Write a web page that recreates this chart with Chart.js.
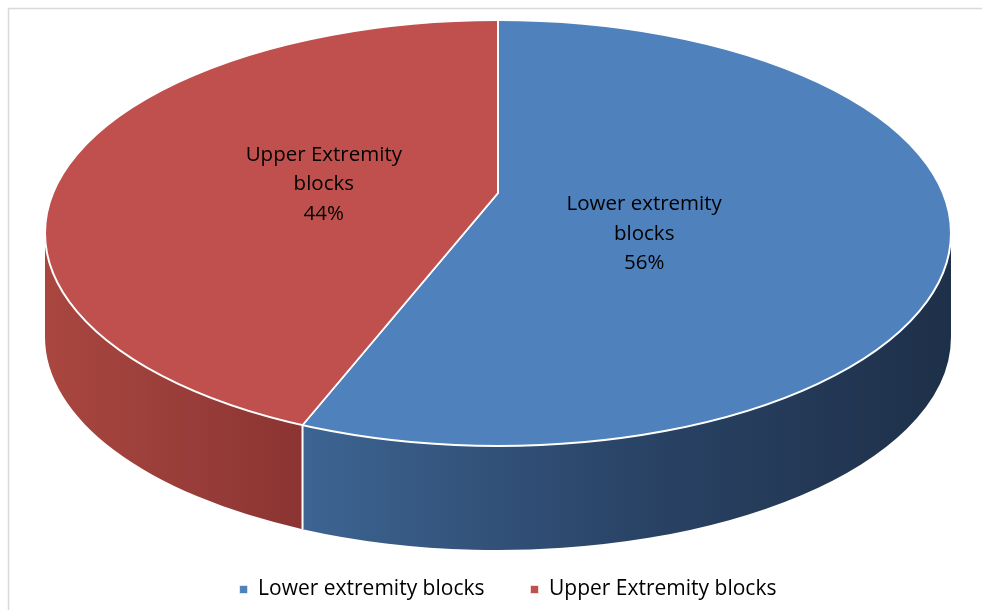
<!DOCTYPE html>
<html>
<head>
<meta charset="utf-8">
<script src="https://cdn.jsdelivr.net/npm/chart.js@4/dist/chart.umd.min.js"></script>
<style>
  html, body { margin: 0; padding: 0; background: #fff; overflow: hidden; }
  canvas { display: block; }
</style>
</head>
<body>
<canvas id="pie" width="982" height="610"></canvas>
<script>
const categories = ['Lower extremity blocks', 'Upper Extremity blocks']
const shares = [56, 44]
const topColors = ['#4f81bd', '#c0504d']
// side wall shading, left -> right
const wallColors = [['#3d6492', '#2a4467', '#1e3049'], ['#a9463f', '#9a3e3a', '#8b3432']]

// tilted disc: top face ellipse, apex where the slices meet, wall height
const disc = { cx: 498, cy: 233, rx: 453, ry: 213, apexY: 193, depth: 104 }

// angle on the ellipse rim hit by a ray leaving the apex at canvas angle a
function rimAngle(a) {
  const pv = (disc.apexY - disc.cy) / disc.ry
  const du = Math.cos(a), dv = Math.sin(a)
  const pd = pv * dv
  const t = -pd + Math.sqrt(pd * pd - pv * pv + 1)
  return Math.atan2(pv + t * dv, t * du)
}

const frame = {
  id: 'frame',
  beforeDraw(chart) {
    const ctx = chart.ctx
    ctx.save()
    ctx.fillStyle = '#fff'
    ctx.fillRect(0, 0, chart.width, chart.height)
    ctx.strokeStyle = '#d9d9d9'
    ctx.lineWidth = 1.5
    ctx.strokeRect(8.5, 8.5, chart.width + 20, chart.height + 20)
    ctx.restore()
  }
}

const disc3d = {
  id: 'disc3d',
  beforeDatasetsDraw(chart) {
    const ctx = chart.ctx
    const { cx, cy, rx, ry, depth } = disc
    const arcs = chart.getDatasetMeta(0).data
    ctx.save()
    arcs.forEach((arc, i) => {
      const b0 = rimAngle(arc.startAngle)
      let b1 = rimAngle(arc.endAngle)
      while (b1 <= b0) b1 += 2 * Math.PI
      for (let k = -1; k <= 1; k++) {
        const s = Math.max(b0, 2 * Math.PI * k)
        const e = Math.min(b1, Math.PI + 2 * Math.PI * k)
        if (e <= s) continue
        const xl = cx + rx * Math.cos(e), xr = cx + rx * Math.cos(s)
        const g = ctx.createLinearGradient(xl, 0, xr, 0)
        const stops = wallColors[i]
        stops.forEach((c, j) => g.addColorStop(j / (stops.length - 1), c))
        ctx.beginPath()
        ctx.ellipse(cx, cy, rx, ry, 0, s, e, false)
        ctx.ellipse(cx, cy + depth, rx, ry, 0, e, s, true)
        ctx.closePath()
        ctx.fillStyle = g
        ctx.fill()
      }
    })
    // white seams where slices meet on the wall
    arcs.forEach(arc => {
      let b = rimAngle(arc.startAngle)
      b = ((b % (2 * Math.PI)) + 2 * Math.PI) % (2 * Math.PI)
      if (b <= 0 || b >= Math.PI) return
      const x = cx + rx * Math.cos(b), y = cy + ry * Math.sin(b)
      ctx.beginPath()
      ctx.moveTo(x, y)
      ctx.lineTo(x, y + depth)
      ctx.strokeStyle = '#fff'
      ctx.lineWidth = 2
      ctx.stroke()
    })
    ctx.restore()
  },
  beforeDatasetDraw(chart) {
    const ctx = chart.ctx
    const { cx, cy, rx, ry, apexY } = disc
    const arc = chart.getDatasetMeta(0).data[0]
    const R = arc.outerRadius
    ctx.save()
    ctx.beginPath()
    ctx.ellipse(cx, cy, rx, ry, 0, 0, 2 * Math.PI)
    ctx.clip()
    ctx.translate(cx, apexY)
    ctx.scale(2 * rx / R, 2 * ry / R)
    ctx.translate(-arc.x, -arc.y)
  },
  afterDatasetDraw(chart) {
    const ctx = chart.ctx
    const { cx, cy, rx, ry } = disc
    ctx.restore()
    ctx.save()
    ctx.beginPath()
    ctx.ellipse(cx, cy, rx, ry, 0, 0, 2 * Math.PI)
    ctx.strokeStyle = '#fff'
    ctx.lineWidth = 2
    ctx.stroke()
    ctx.restore()
  },
  afterDatasetsDraw(chart) {
    const ctx = chart.ctx
    const { cx, rx, ry, apexY } = disc
    const arcs = chart.getDatasetMeta(0).data
    const values = chart.data.datasets[0].data
    const total = values.reduce((a, b) => a + b, 0)
    ctx.save()
    ctx.font = '20.5px "Open Sans"'
    ctx.fillStyle = '#000'
    ctx.textAlign = 'center'
    ctx.textBaseline = 'middle'
    arcs.forEach((arc, i) => {
      const m = (arc.startAngle + arc.endAngle) / 2
      const x = cx - 14 + Math.cos(m) * rx * 0.36
      const y = apexY + 16 + Math.sin(m) * ry * 0.62
      const words = chart.data.labels[i].split(' ')
      const lines = [words.slice(0, -1).join(' '), words[words.length - 1],
        Math.round(values[i] / total * 100) + '%']
      lines.forEach((t, j) => ctx.fillText(t, x, y + (j - 1) * 29.5))
    })
    ctx.restore()
  }
}

new Chart(document.getElementById('pie'), {
  type: 'pie',
  data: {
    labels: categories,
    datasets: [{
      data: shares,
      backgroundColor: topColors,
      borderColor: '#fff',
      borderWidth: 0.6,
      clip: false
    }]
  },
  options: {
    responsive: false,
    animation: false,
    layout: { padding: { left: 34 } },
    plugins: {
      legend: {
        position: 'bottom',
        labels: {
          boxWidth: 8,
          boxHeight: 8,
          padding: 46,
          color: '#000',
          font: { family: 'Open Sans', size: 21 }
        }
      },
      tooltip: { enabled: false }
    }
  },
  plugins: [frame, disc3d]
})
</script>
</body>
</html>
